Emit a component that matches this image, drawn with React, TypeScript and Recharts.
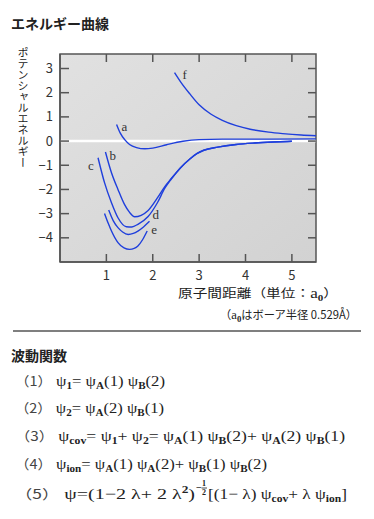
import React from "react";
import { LineChart, Line, XAxis, YAxis, ReferenceLine, ReferenceArea, CartesianGrid } from "recharts";

// distance (a0) vs potential energy
const curveA = [
  { r: 1.22, e: 0.69 }, { r: 1.3, e: 0.33 }, { r: 1.4, e: 0.05 }, { r: 1.5, e: -0.14 },
  { r: 1.65, e: -0.27 }, { r: 1.83, e: -0.32 }, { r: 2.0, e: -0.29 }, { r: 2.3, e: -0.15 },
  { r: 2.65, e: -0.01 }, { r: 3.0, e: 0.06 }, { r: 3.5, e: 0.08 }, { r: 4.5, e: 0.08 }, { r: 5.52, e: 0.09 },
];
const curveB = [
  { r: 0.98, e: -0.45 }, { r: 1.11, e: -1.31 }, { r: 1.25, e: -2.0 }, { r: 1.39, e: -2.62 },
  { r: 1.5, e: -2.95 }, { r: 1.61, e: -3.13 }, { r: 1.75, e: -3.07 }, { r: 1.9, e: -2.87 },
  { r: 2.1, e: -2.35 }, { r: 2.26, e: -1.88 }, { r: 2.4, e: -1.55 }, { r: 2.6, e: -1.1 },
  { r: 2.8, e: -0.74 }, { r: 2.95, e: -0.52 }, { r: 3.1, e: -0.38 }, { r: 3.4, e: -0.25 },
  { r: 3.8, e: -0.14 }, { r: 4.2, e: -0.08 }, { r: 4.6, e: -0.04 }, { r: 5.0, e: -0.01 },
];
const curveC = [
  { r: 0.82, e: -0.69 }, { r: 0.96, e: -1.72 }, { r: 1.11, e: -2.55 }, { r: 1.25, e: -3.17 },
  { r: 1.43, e: -3.54 }, { r: 1.55, e: -3.55 }, { r: 1.68, e: -3.44 }, { r: 1.9, e: -3.12 },
  { r: 2.1, e: -2.55 }, { r: 2.26, e: -1.95 }, { r: 2.4, e: -1.57 }, { r: 2.6, e: -1.1 },
  { r: 2.8, e: -0.74 }, { r: 2.95, e: -0.52 }, { r: 3.1, e: -0.38 }, { r: 3.4, e: -0.25 },
  { r: 3.8, e: -0.14 }, { r: 4.2, e: -0.08 }, { r: 4.6, e: -0.04 }, { r: 5.0, e: -0.01 },
];
const curveD = [
  { r: 1.05, e: -2.85 }, { r: 1.15, e: -3.3 }, { r: 1.25, e: -3.58 }, { r: 1.35, e: -3.76 },
  { r: 1.47, e: -3.86 }, { r: 1.58, e: -3.82 }, { r: 1.68, e: -3.72 }, { r: 1.8, e: -3.55 },
  { r: 1.93, e: -3.32 },
];
const curveE = [
  { r: 0.96, e: -2.99 }, { r: 1.04, e: -3.4 }, { r: 1.11, e: -3.72 }, { r: 1.25, e: -4.2 },
  { r: 1.38, e: -4.42 }, { r: 1.5, e: -4.48 }, { r: 1.6, e: -4.44 }, { r: 1.68, e: -4.34 },
  { r: 1.78, e: -4.08 }, { r: 1.88, e: -3.72 },
];
const curveF = [
  { r: 2.47, e: 2.83 }, { r: 2.6, e: 2.45 }, { r: 2.8, e: 1.95 }, { r: 3.0, e: 1.5 },
  { r: 3.25, e: 1.12 }, { r: 3.5, e: 0.86 }, { r: 3.8, e: 0.64 }, { r: 4.1, e: 0.49 },
  { r: 4.5, e: 0.37 }, { r: 4.8, e: 0.31 }, { r: 5.2, e: 0.25 }, { r: 5.52, e: 0.22 },
];

const xTicks = [1, 2, 3, 4, 5];
const yTicks = [-4, -3, -2, -1, 0, 1, 2, 3];
const xDomain: [number, number] = [0, 5.52];
const yDomain: [number, number] = [-5, 3.6];

const JP = '"Noto Sans CJK JP", sans-serif';
const SERIF = '"Liberation Serif", "DejaVu Serif", serif';
const BLUE = "#1f3fdc";
const FRAME = "#555";

// chart box: plot area edges follow from these
const W = 374;
const H = 300;
const margin = { top: 54, right: 58, bottom: 8, left: 0 };
const Y_AXIS_W = 60;
const X_AXIS_H = 30;
const plotL = margin.left + Y_AXIS_W;
const plotR = W - margin.right;
const plotT = margin.top;
const plotB = H - margin.bottom - X_AXIS_H;

// label text, which end of the curve it sits at, and its offset
const curves = [
  { name: "a", data: curveA, at: "start", dx: 5, dy: 7 },
  { name: "b", data: curveB, at: "start", dx: 4, dy: 8 },
  { name: "c", data: curveC, at: "start", dx: -10, dy: 12 },
  { name: "d", data: curveD, at: "end", dx: 3, dy: -2 },
  { name: "e", data: curveE, at: "end", dx: 4, dy: 3 },
  { name: "f", data: curveF, at: "start", dx: 8, dy: 6 },
];

const minus = (v: number) => (v < 0 ? `−${-v}` : `${v}`);

// ticks point inward on all four sides
const XTick = (p: any) => (
  <g>
    <line x1={p.x} x2={p.x} y1={plotB} y2={plotB - 8} stroke={FRAME} strokeWidth={1.5} />
    <line x1={p.x} x2={p.x} y1={plotT} y2={plotT + 8} stroke={FRAME} strokeWidth={1.5} />
    <text x={p.x} y={p.y} dy="0.71em" textAnchor="middle" fill="#333" fontSize={13} fontFamily={JP}>
      {p.payload.value}
    </text>
  </g>
);
const YTick = (p: any) => (
  <g>
    <line x1={plotL} x2={plotL + 9} y1={p.y} y2={p.y} stroke={FRAME} strokeWidth={1.5} />
    <line x1={plotR} x2={plotR - 8} y1={p.y} y2={p.y} stroke={FRAME} strokeWidth={1.5} />
    <text x={p.x} y={p.y} dy="0.355em" textAnchor="end" fill="#333" fontSize={13} fontFamily={JP}>
      {minus(p.payload.value)}
    </text>
  </g>
);

type Seg = { t: string; k?: "jp" | "sub" | "sup" };

const eq1: Seg[] = [
  { t: "（1）", k: "jp" }, { t: " ψ" }, { t: "1", k: "sub" }, { t: "= ψ" }, { t: "A", k: "sub" },
  { t: "(1) ψ" }, { t: "B", k: "sub" }, { t: "(2)" },
];
const eq2: Seg[] = [
  { t: "（2）", k: "jp" }, { t: " ψ" }, { t: "2", k: "sub" }, { t: "= ψ" }, { t: "A", k: "sub" },
  { t: "(2) ψ" }, { t: "B", k: "sub" }, { t: "(1)" },
];
const eq3: Seg[] = [
  { t: "（3）", k: "jp" }, { t: " ψ" }, { t: "cov", k: "sub" }, { t: "= ψ" }, { t: "1", k: "sub" },
  { t: "+ ψ" }, { t: "2", k: "sub" }, { t: "= ψ" }, { t: "A", k: "sub" }, { t: "(1) ψ" },
  { t: "B", k: "sub" }, { t: "(2)+ ψ" }, { t: "A", k: "sub" }, { t: "(2) ψ" }, { t: "B", k: "sub" },
  { t: "(1)" },
];
const eq4: Seg[] = [
  { t: "（4）", k: "jp" }, { t: " ψ" }, { t: "ion", k: "sub" }, { t: "= ψ" }, { t: "A", k: "sub" },
  { t: "(1) ψ" }, { t: "A", k: "sub" }, { t: "(2)+ ψ" }, { t: "B", k: "sub" }, { t: "(1) ψ" },
  { t: "B", k: "sub" }, { t: "(2)" },
];
const eq5a: Seg[] = [
  { t: "（5）", k: "jp" }, { t: " ψ=(1−2 λ+ 2 λ" }, { t: "2", k: "sup" }, { t: ")" },
];
const eq5b: Seg[] = [
  { t: "[(1− λ) ψ" }, { t: "cov", k: "sub" }, { t: "+ λ ψ" }, { t: "ion", k: "sub" }, { t: "]" },
];

function Formula({ segs, x, y, len }: { segs: Seg[]; x: number; y: number; len: number }) {
  let prev = 0;
  return (
    <text x={x} y={y} fontFamily={SERIF} fontSize={15} fill="#222" textLength={len} lengthAdjust="spacingAndGlyphs">
      {segs.map((s, i) => {
        const shift = s.k === "sub" ? 3 : s.k === "sup" ? -6 : 0;
        const dy = shift - prev;
        prev = shift;
        if (s.k === "jp")
          return <tspan key={i} dy={dy} fontFamily={JP} fontSize={13} fill="#444">{s.t}</tspan>;
        if (s.k === "sub" || s.k === "sup")
          return <tspan key={i} dy={dy} fontSize={10} fontWeight="bold">{s.t}</tspan>;
        return <tspan key={i} dy={dy}>{s.t}</tspan>;
      })}
    </text>
  );
}

function curveLabel(name: string, at: string, last: number, dx: number, dy: number) {
  return (p: any) => {
    const want = at === "start" ? 0 : last;
    if (p.index !== want) return null;
    return (
      <text x={p.x + dx} y={p.y + dy} fontFamily={SERIF} fontSize={13} fill="#333">
        {name}
      </text>
    );
  };
}

export default function App() {
  return (
    <div style={{ position: "absolute", left: 0, top: 0, width: 374, height: 519, background: "#fff" }}>
      <LineChart width={W} height={H} margin={margin}>
        <defs>
          <linearGradient id="plotBg" x1="0" y1="0" x2="1" y2="1">
            <stop offset="0%" stopColor="#e1e1e1" />
            <stop offset="100%" stopColor="#d2d2d2" />
          </linearGradient>
        </defs>
        <CartesianGrid horizontal={false} vertical={false} fill="url(#plotBg)" />
        <XAxis
          dataKey="r" type="number" domain={xDomain} ticks={xTicks} allowDataOverflow height={X_AXIS_H}
          axisLine={{ stroke: FRAME, strokeWidth: 1.5 }} tickLine={false} tickSize={0} tickMargin={9} tick={XTick}
        />
        <YAxis
          type="number" domain={yDomain} ticks={yTicks} allowDataOverflow width={Y_AXIS_W}
          axisLine={{ stroke: FRAME, strokeWidth: 1.5 }} tickLine={false} tickSize={0} tickMargin={7} tick={YTick}
        />
        <ReferenceArea
          x1={xDomain[0]} x2={xDomain[1]} y1={yDomain[0]} y2={yDomain[1]}
          fill="none" fillOpacity={0} stroke={FRAME} strokeWidth={1.5}
        />
        <ReferenceLine y={0} stroke="#fff" strokeWidth={2.5} />
        {curves.map((c) => (
          <Line
            key={c.name}
            data={c.data}
            dataKey="e"
            type="monotone"
            stroke={BLUE}
            strokeWidth={1.4}
            dot={false}
            activeDot={false}
            isAnimationActive={false}
            label={curveLabel(c.name, c.at, c.data.length - 1, c.dx, c.dy)}
          />
        ))}
      </LineChart>

      <div
        style={{
          position: "absolute", left: 17, top: 47, fontSize: 11, lineHeight: "12px",
          writingMode: "vertical-rl", fontFamily: JP, color: "#222",
        }}
      >
        ポテンシャルエネルギー
      </div>

      <svg width={374} height={519} style={{ position: "absolute", left: 0, top: 0, pointerEvents: "none" }}>
        <text x={11} y={29} fontFamily={JP} fontSize={14} fontWeight="bold" fill="#222">エネルギー曲線</text>

        <text x={178} y={298} fontFamily={JP} fontSize={12} fill="#222" textLength={160} lengthAdjust="spacingAndGlyphs">
          <tspan>原子間距離（単位：</tspan>
          <tspan fontFamily={SERIF} fontSize={14}>a</tspan>
          <tspan fontFamily={SERIF} fontSize={9} fontWeight="bold" dy={3}>0</tspan>
          <tspan dy={-3}>）</tspan>
        </text>
        <text x={220} y={319} fontFamily={JP} fontSize={11.5} fill="#222" textLength={137} lengthAdjust="spacingAndGlyphs">
          <tspan>（</tspan>
          <tspan fontFamily={SERIF} fontSize={13}>a</tspan>
          <tspan fontFamily={SERIF} fontSize={9} fontWeight="bold" dy={3}>0</tspan>
          <tspan dy={-3}>はボーア半径 0.529Å）</tspan>
        </text>

        <line x1={13} x2={361} y1={331} y2={331} stroke={FRAME} strokeWidth={1.5} />
        <text x={11} y={361} fontFamily={JP} fontSize={14} fontWeight="bold" fill="#222">波動関数</text>

        <Formula segs={eq1} x={15} y={386} len={150} />
        <Formula segs={eq2} x={15} y={413} len={149} />
        <Formula segs={eq3} x={15} y={441} len={330} />
        <Formula segs={eq4} x={15} y={469} len={252} />
        <Formula segs={eq5a} x={15} y={499} len={180} />
        <text x={196} y={491} fontFamily={SERIF} fontSize={10} fontWeight="bold" fill="#222">−</text>
        <text x={202} y={486} fontFamily={SERIF} fontSize={8} fontWeight="bold" fill="#222">1</text>
        <line x1={201.5} x2={207} y1={488} y2={488} stroke="#222" strokeWidth={0.8} />
        <text x={202} y={495} fontFamily={SERIF} fontSize={8} fontWeight="bold" fill="#222">2</text>
        <Formula segs={eq5b} x={208} y={499} len={139} />
      </svg>
    </div>
  );
}
